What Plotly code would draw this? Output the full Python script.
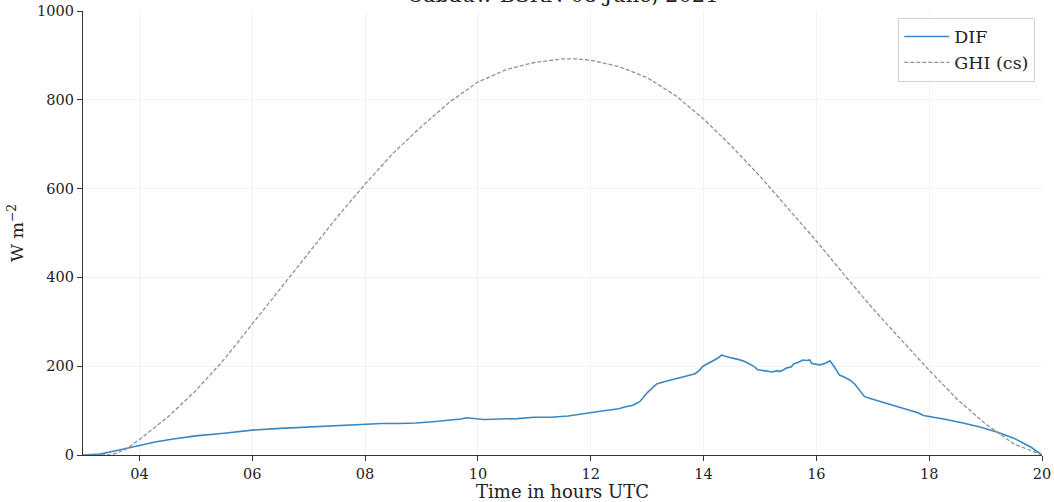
import plotly.graph_objects as go

# Clear-sky GHI (W m-2) vs time (hours UTC)
ghi_t = [3.0, 3.5, 3.75, 4.0, 4.5, 5.0, 5.5, 6.0, 6.5, 7.0, 7.5, 8.0, 8.5, 9.0, 9.5, 10.0,
         10.5, 11.0, 11.5, 11.75, 12.0, 12.5, 13.0, 13.5, 14.0, 14.5, 15.0, 15.5, 16.0,
         16.5, 17.0, 17.5, 18.0, 18.5, 19.0, 19.5, 20.0]
ghi_v = [0, 0, 12, 35, 85, 145, 215, 295, 375, 455, 535, 610, 680, 740, 795, 840,
         868, 884, 892, 892, 889, 875, 850, 810, 757, 695, 628, 555, 482,
         405, 330, 260, 191, 125, 70, 25, 0]

# Diffuse irradiance (W m-2)
dif_t = [3.0, 3.3, 3.6, 4.0, 4.3, 4.6, 5.0, 5.5, 6.0, 6.5, 7.0, 7.5, 8.0, 8.3, 8.6, 8.9,
         9.2, 9.5, 9.7, 9.8, 9.9, 10.1, 10.4, 10.7, 11.0, 11.3, 11.6, 11.9, 12.2, 12.5,
         12.6, 12.75, 12.87, 13.0, 13.1, 13.17, 13.3, 13.4, 13.55, 13.7, 13.85, 13.92,
         13.99, 14.08, 14.15, 14.25, 14.32, 14.38, 14.45, 14.59, 14.7, 14.8, 14.9, 14.96,
         15.1, 15.22, 15.3, 15.35, 15.42, 15.47, 15.55, 15.6, 15.7, 15.76, 15.83, 15.88,
         15.92, 16.0, 16.06, 16.15, 16.24, 16.3, 16.36, 16.41, 16.5, 16.59, 16.68, 16.77,
         16.85, 16.94, 17.2, 17.5, 17.8, 17.9, 18.0, 18.3, 18.6, 18.9, 19.2, 19.5, 19.8, 20.0]
dif_v = [0, 2, 10, 22, 30, 36, 43, 49, 56, 60, 63, 66, 70, 71, 71, 72,
         75, 78, 81, 84, 83, 80, 81, 82, 85, 85, 88, 94, 99, 104,
         108, 112, 120, 140, 152, 160, 165, 168, 172, 178, 183, 190,
         200, 206, 212, 218, 225, 222, 220, 216, 212, 206, 199, 192,
         189, 187, 190, 188, 192, 196, 198, 205, 210, 214, 213, 214,
         206, 205, 203, 206, 212, 202, 190, 180, 175, 169, 160, 145,
         132, 128, 118, 107, 95, 89, 87, 80, 72, 63, 52, 38, 18, 0]

x_ticks = [4, 6, 8, 10, 12, 14, 16, 18, 20]
x_tick_labels = ["04", "06", "08", "10", "12", "14", "16", "18", "20"]
y_ticks = [0, 200, 400, 600, 800, 1000]

FONT = "DejaVu Serif"

fig = go.Figure()
fig.add_trace(go.Scatter(x=dif_t, y=dif_v, mode="lines", name="DIF",
                         line=dict(color="#3a87c4", width=1.6)))
fig.add_trace(go.Scatter(x=ghi_t, y=ghi_v, mode="lines", name="GHI (cs)",
                         line=dict(color="#8c919b", width=1.3, dash="4px,2px")))

axis_common = dict(showline=True, linecolor="#333333", linewidth=1.2,
                   ticks="outside", ticklen=5, tickcolor="#333333", automargin=False,
                   showgrid=True, gridcolor="#f2f2f2", gridwidth=1, zeroline=False,
                   tickfont=dict(family=FONT, size=14.5, color="#222"))

fig.update_layout(
    width=1054, height=502,
    margin=dict(l=83, r=12, t=11, b=47, autoexpand=False),
    paper_bgcolor="white", plot_bgcolor="white",
    font=dict(family=FONT, size=14, color="#222"),
    xaxis=dict(range=[3, 20], tickvals=x_ticks, ticktext=x_tick_labels,
               title=dict(text="Time in hours UTC", font=dict(family=FONT, size=18), standoff=4),
               **axis_common),
    yaxis=dict(range=[0, 1000], tickvals=y_ticks,
               title=dict(text="W m<sup>−2</sup>", font=dict(family=FONT, size=17.5), standoff=8),
               **axis_common),
    legend=dict(x=0.993, y=0.985, xanchor="right", yanchor="top",
                bgcolor="white", bordercolor="#d0d0d0", borderwidth=1, itemwidth=45,
                font=dict(family=FONT, size=17.5, color="#222")),
    showlegend=True,
    annotations=[dict(text="Cabauw BSRN 08 June, 2021", xref="paper", yref="paper",
                      x=0.5, y=1, xanchor="center", yanchor="bottom", yshift=2,
                      showarrow=False, font=dict(family=FONT, size=21, color="#222"))],
)

fig.write_html("out.html", config={"displayModeBar": False},
               post_script="document.body.style.margin='0';document.body.style.overflow='hidden';")
